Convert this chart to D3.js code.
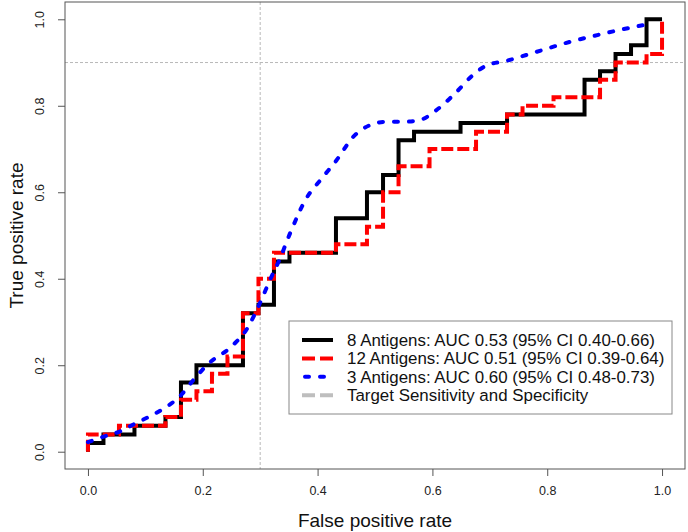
<!DOCTYPE html>
<html>
<head>
<meta charset="utf-8">
<script src="https://cdn.jsdelivr.net/npm/d3@7/dist/d3.min.js"></script>
<style>
  html, body { margin: 0; padding: 0; background: #fff; }
  svg { display: block; }
  text { font-family: "Liberation Sans", Arial, sans-serif; }
</style>
</head>
<body>
<svg id="chart" width="688" height="532"></svg>
<script>
// ---- data ----
const fpr8 = [0, 0, 0.027, 0.027, 0.081, 0.081, 0.135, 0.135, 0.162, 0.162, 0.189, 0.189, 0.270, 0.270, 0.297, 0.297, 0.324, 0.324, 0.351, 0.351, 0.432, 0.432, 0.486, 0.486, 0.514, 0.514, 0.541, 0.541, 0.568, 0.568, 0.649, 0.649, 0.730, 0.730, 0.865, 0.865, 0.892, 0.892, 0.919, 0.919, 0.946, 0.946, 0.973, 0.973, 1.0];
const tpr8 = [0, 0.02, 0.02, 0.04, 0.04, 0.06, 0.06, 0.08, 0.08, 0.16, 0.16, 0.20, 0.20, 0.32, 0.32, 0.34, 0.34, 0.44, 0.44, 0.46, 0.46, 0.54, 0.54, 0.60, 0.60, 0.64, 0.64, 0.72, 0.72, 0.74, 0.74, 0.76, 0.76, 0.78, 0.78, 0.86, 0.86, 0.88, 0.88, 0.92, 0.92, 0.94, 0.94, 1.0, 1.0];

const fpr12 = [0, 0, 0.054, 0.054, 0.135, 0.135, 0.162, 0.162, 0.189, 0.189, 0.216, 0.216, 0.243, 0.243, 0.270, 0.270, 0.297, 0.297, 0.324, 0.324, 0.432, 0.432, 0.486, 0.486, 0.514, 0.514, 0.541, 0.541, 0.595, 0.595, 0.676, 0.676, 0.730, 0.730, 0.757, 0.757, 0.811, 0.811, 0.892, 0.892, 0.919, 0.919, 0.973, 0.973, 1.0, 1.0];
const tpr12 = [0, 0.04, 0.04, 0.06, 0.06, 0.08, 0.08, 0.12, 0.12, 0.14, 0.14, 0.18, 0.18, 0.22, 0.22, 0.32, 0.32, 0.40, 0.40, 0.46, 0.46, 0.48, 0.48, 0.52, 0.52, 0.60, 0.60, 0.66, 0.66, 0.70, 0.70, 0.74, 0.74, 0.78, 0.78, 0.80, 0.80, 0.82, 0.82, 0.86, 0.86, 0.90, 0.90, 0.92, 0.92, 1.0];

const fpr3 = [0, 0.03, 0.056, 0.082, 0.108, 0.131, 0.16, 0.185, 0.207, 0.253, 0.276, 0.3, 0.317, 0.334, 0.352, 0.38, 0.406, 0.433, 0.462, 0.491, 0.52, 0.549, 0.578, 0.607, 0.642, 0.668, 0.694, 0.729, 0.782, 0.84, 0.892, 0.95, 0.982];
const tpr3 = [0.022, 0.036, 0.047, 0.065, 0.082, 0.099, 0.128, 0.168, 0.2, 0.247, 0.282, 0.345, 0.397, 0.445, 0.505, 0.585, 0.63, 0.674, 0.728, 0.755, 0.763, 0.763, 0.767, 0.79, 0.832, 0.868, 0.893, 0.904, 0.925, 0.948, 0.965, 0.982, 0.99];

const targetFpr = 0.3;
const targetTpr = 0.9;

const xTicks = [0, 0.2, 0.4, 0.6, 0.8, 1.0];
const yTicks = [0, 0.2, 0.4, 0.6, 0.8, 1.0];

const legendLabels = [
  "8 Antigens: AUC 0.53 (95% CI 0.40-0.66)",
  "12 Antigens: AUC 0.51 (95% CI 0.39-0.64)",
  "3 Antigens: AUC 0.60 (95% CI 0.48-0.73)",
  "Target Sensitivity and Specificity"
];

// ---- drawing ----
const svg = d3.select("#chart");
const box = { left: 65, right: 685, top: 2, bottom: 469 };

const x = d3.scaleLinear().domain([-0.04, 1.04]).range([box.left, box.right]);
const y = d3.scaleLinear().domain([-0.04, 1.04]).range([box.bottom, box.top]);

// target lines
svg.append("line")
  .attr("x1", x(targetFpr)).attr("x2", x(targetFpr))
  .attr("y1", box.top).attr("y2", box.bottom)
  .attr("stroke", "#b8b8b8").attr("stroke-width", 1).attr("stroke-dasharray", "3,2");
svg.append("line")
  .attr("x1", box.left).attr("x2", box.right)
  .attr("y1", y(targetTpr)).attr("y2", y(targetTpr))
  .attr("stroke", "#b8b8b8").attr("stroke-width", 1).attr("stroke-dasharray", "3,2");

const line = d3.line().x(d => x(d[0])).y(d => y(d[1]));
const smooth = d3.line().x(d => x(d[0])).y(d => y(d[1])).curve(d3.curveMonotoneX);

const series = [
  { f: fpr12, t: tpr12, color: "#ff0000", dash: "12,4", cap: "butt", gen: line },
  { f: fpr8, t: tpr8, color: "#000000", dash: null, cap: "butt", gen: line },
  { f: fpr3, t: tpr3, color: "#0000ff", dash: "4,11", cap: "round", gen: smooth }
];

const order = [series[1], series[0], series[2]];
order.forEach(s => {
  const pts = s.f.map((v, i) => [v, s.t[i]]);
  svg.append("path")
    .attr("d", s.gen(pts))
    .attr("fill", "none")
    .attr("stroke", s.color)
    .attr("stroke-width", 4)
    .attr("stroke-linecap", s.cap)
    .attr("stroke-linejoin", "miter")
    .attr("stroke-dasharray", s.dash);
});

// plot box
svg.append("rect")
  .attr("x", box.left).attr("y", box.top)
  .attr("width", box.right - box.left).attr("height", box.bottom - box.top)
  .attr("fill", "none").attr("stroke", "#555").attr("stroke-width", 1);

// axes
const xAxis = svg.append("g")
  .attr("transform", `translate(0,${box.bottom})`)
  .call(d3.axisBottom(x).tickValues(xTicks).tickFormat(d3.format(".1f")).tickSize(7).tickPadding(10));
xAxis.select(".domain").remove();
xAxis.selectAll(".tick line").attr("stroke", "#555");
xAxis.selectAll(".tick text").attr("font-size", 12.5).attr("fill", "#222")
  .attr("font-family", "Liberation Sans, Arial, sans-serif");

const yAxis = svg.append("g")
  .attr("transform", `translate(${box.left},0)`)
  .call(d3.axisLeft(y).tickValues(yTicks).tickFormat(d3.format(".1f")).tickSize(7));
yAxis.select(".domain").remove();
yAxis.selectAll(".tick line").attr("stroke", "#555");
yAxis.selectAll(".tick text")
  .attr("font-size", 12.5).attr("fill", "#222")
  .attr("font-family", "Liberation Sans, Arial, sans-serif")
  .attr("x", 0).attr("dy", null)
  .attr("text-anchor", "middle")
  .attr("transform", "translate(-25,0) rotate(-90)")
  .attr("y", 0)
  .attr("dominant-baseline", "central");

// axis titles
svg.append("text")
  .attr("x", x(0.5)).attr("y", 527)
  .attr("text-anchor", "middle").attr("font-size", 19).attr("fill", "#111")
  .text("False positive rate");
svg.append("text")
  .attr("transform", `translate(23,${y(0.5)}) rotate(-90)`)
  .attr("text-anchor", "middle").attr("font-size", 19).attr("fill", "#111")
  .text("True positive rate");

// legend
const lg = svg.append("g");
lg.append("rect")
  .attr("x", 289).attr("y", 321).attr("width", 383).attr("height", 93)
  .attr("fill", "#fff").attr("stroke", "#888").attr("stroke-width", 1);
const legendStyles = [
  { color: "#000000", dash: null, cap: "butt" },
  { color: "#ff0000", dash: "13,5", cap: "butt" },
  { color: "#0000ff", dash: "4,11", cap: "round" },
  { color: "#bebebe", dash: "13,5", cap: "butt" }
];
legendLabels.forEach((lab, i) => {
  const cy = 340 + i * 18.4;
  const st = legendStyles[i];
  lg.append("line")
    .attr("x1", i === 2 ? 305 : 302).attr("x2", 333)
    .attr("y1", cy).attr("y2", cy)
    .attr("stroke", st.color).attr("stroke-width", 4)
    .attr("stroke-linecap", st.cap)
    .attr("stroke-dasharray", st.dash);
  lg.append("text")
    .attr("x", 347).attr("y", cy).attr("dy", "0.36em")
    .attr("font-size", 16.9).attr("fill", "#111")
    .text(lab);
});
</script>
</body>
</html>
